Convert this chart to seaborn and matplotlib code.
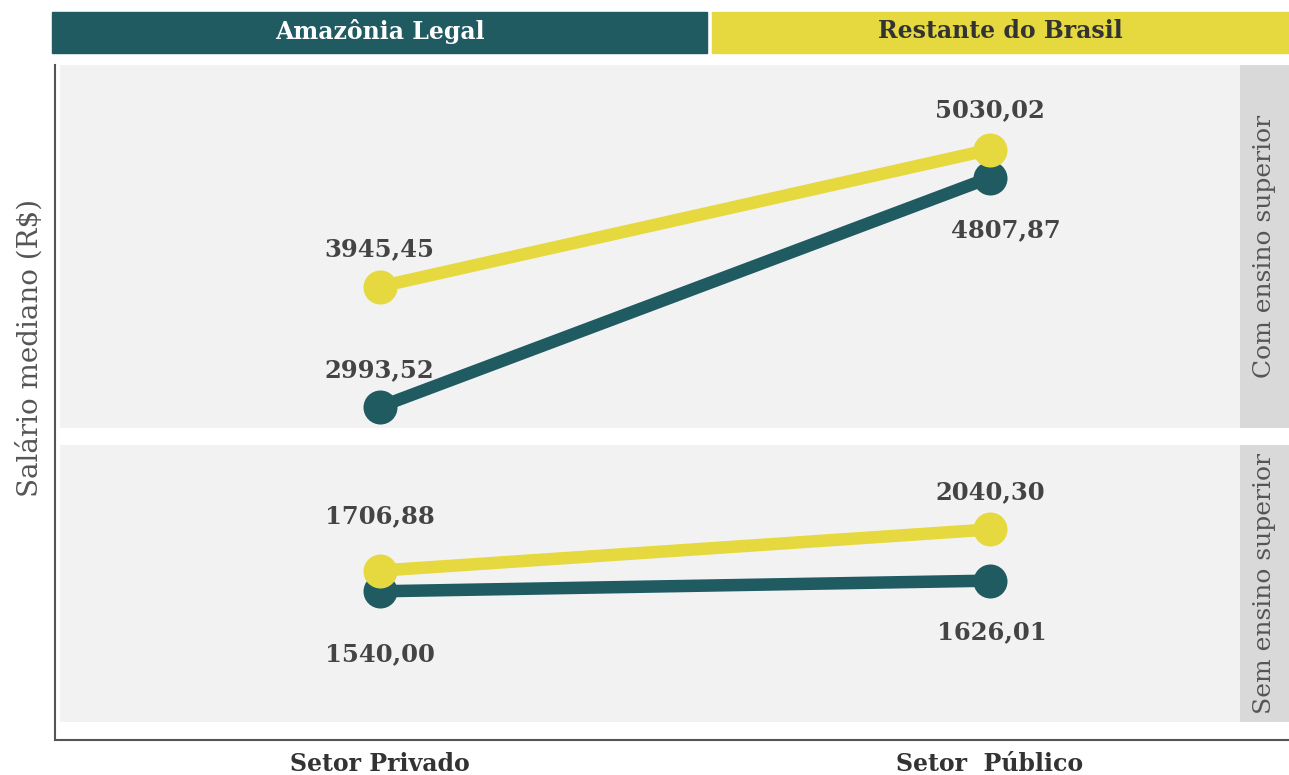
import pandas as pd
import matplotlib
matplotlib.use("Agg")
import matplotlib.pyplot as plt
import seaborn as sns
from matplotlib.patches import Rectangle

# median wage (R$) by region, sector and schooling
setores = ["Setor Privado", "Setor  Público"]
grupos = ["Amazônia Legal", "Restante do Brasil"]
paineis = ["Com ensino superior", "Sem ensino superior"]
amazonia_com = [2993.52, 4807.87]
restante_com = [3945.45, 5030.02]
amazonia_sem = [1540.00, 1626.01]
restante_sem = [1706.88, 2040.30]

rows = []
for painel, am, rb in [(paineis[0], amazonia_com, restante_com),
                       (paineis[1], amazonia_sem, restante_sem)]:
    for i, s in enumerate(setores):
        rows.append({"painel": painel, "setor": s, "grupo": grupos[0], "salario": am[i]})
        rows.append({"painel": painel, "setor": s, "grupo": grupos[1], "salario": rb[i]})
df = pd.DataFrame(rows)

teal = "#1f5b61"
yellow = "#e6d93f"
cores = {grupos[0]: teal, grupos[1]: yellow}
txt = "#444444"

# label nudges in pixels (dx, dy), keyed by (panel, group), one per sector
nudges = {
    (0, 0): [(0, 37), (16, -52)],
    (0, 1): [(0, 37), (0, 39)],
    (1, 0): [(0, -63), (2, -52)],
    (1, 1): [(0, 54), (0, 37)],
}

sns.set_theme(style="white")
plt.rcParams["font.family"] = ["DejaVu Serif"]

W, H = 1289, 775
fig = plt.figure(figsize=(W / 100, H / 100), dpi=100)

def box(x0, y0, x1, y1):
    # pixel coords (top-left origin) -> figure fraction
    return [x0 / W, 1 - y1 / H, (x1 - x0) / W, (y1 - y0) / H]

# outer frame with left/bottom spine
frame = fig.add_axes(box(55, 65, 1289, 740))
frame.set_facecolor("none")
for sp in ["top", "right"]:
    frame.spines[sp].set_visible(False)
for sp in ["left", "bottom"]:
    frame.spines[sp].set_color("#555555")
    frame.spines[sp].set_linewidth(1.5)
frame.set_xticks([])
frame.set_yticks([])
fig.text(30 / W, 1 - 348 / H, "Salário mediano (R$)", rotation=90, ha="center", va="center",
         fontsize=20, color="#555555", fontweight="light")

ax_top = fig.add_axes(box(60, 65, 1240, 428))
ax_bot = fig.add_axes(box(60, 445, 1240, 722))
ylims = [(2826, 5700), (483, 2723)]

for p, (ax, painel, ylim, pos) in enumerate([(ax_top, paineis[0], ylims[0], (65, 428)),
                                             (ax_bot, paineis[1], ylims[1], (445, 722))]):
    d = df[df["painel"] == painel]
    ax.set_facecolor("#f2f2f2")
    sns.lineplot(data=d, x="setor", y="salario", hue="grupo", palette=cores,
                 linewidth=9, marker="o", markersize=24.5, markeredgewidth=0,
                 legend=False, ax=ax, sort=False)
    ax.set_xlim(-0.524, 1.41)
    ax.set_ylim(*ylim)
    ax.set_xticks([])
    ax.set_yticks([])
    ax.set_xlabel("")
    ax.set_ylabel("")
    for sp in ax.spines.values():
        sp.set_visible(False)

    for g, grupo in enumerate(grupos):
        vals = d[d["grupo"] == grupo]["salario"].tolist()
        for i in range(2):
            dx, dy = nudges[(p, g)][i]
            ax.annotate(f"{vals[i]:.2f}".replace(".", ","), (i, vals[i]),
                        xytext=(dx, dy), textcoords="offset pixels",
                        ha="center", va="center", fontsize=17.5, fontweight="bold", color=txt)

    # facet strip on the right
    sax = fig.add_axes(box(1240, pos[0], 1289, pos[1]))
    sax.set_facecolor("#d9d9d9")
    sax.set_xticks([])
    sax.set_yticks([])
    for sp in sax.spines.values():
        sp.set_visible(False)
    sax.text(0.5, 0.5, painel, rotation=90, ha="center", va="center",
             fontsize=18, color="#555555", fontweight="light")

# x tick labels under the frame
for i, s in enumerate(setores):
    x_fig = ax_top.transData.transform((i, 0))[0] / fig.dpi / fig.get_figwidth()
    fig.text(x_fig, 1 - 764 / H, s, ha="center", va="center", fontsize=17,
             fontweight="bold", color="#333333")

# legend banner at the top
for g, (x0, x1), tc in [(grupos[0], (52, 707), "white"), (grupos[1], (712, 1289), "#333333")]:
    fig.patches.append(Rectangle((x0 / W, 1 - 53 / H), (x1 - x0) / W, 41 / H,
                                 transform=fig.transFigure, color=cores[g], zorder=0))
    fig.text((x0 + x1) / 2 / W, 1 - 31 / H, g, ha="center", va="center",
             fontsize=17, fontweight="bold", color=tc)

fig.savefig("out.png", dpi=100)
